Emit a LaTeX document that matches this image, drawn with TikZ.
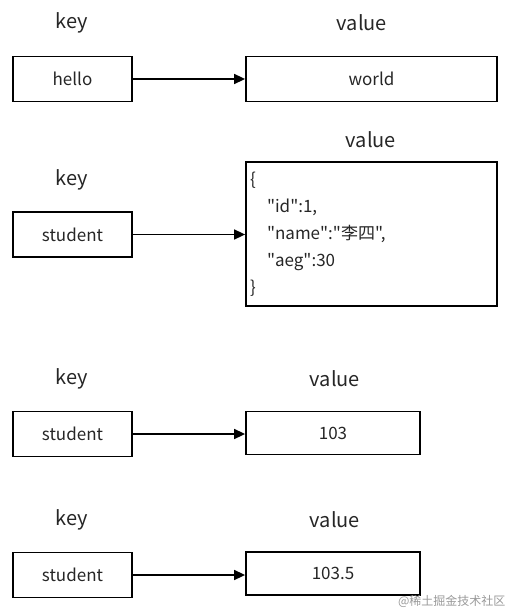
\documentclass[tikz,border=0pt]{standalone}
\usepackage{fontspec}
\usepackage{tikz}
\usetikzlibrary{arrows.meta}
\newfontfamily\jfont{Noto Sans CJK SC}

\begin{document}
\begin{tikzpicture}[
  x=1pt, y=-1pt,
  font=\jfont,
  head/.style={font=\jfont\fontsize{20}{24}\selectfont, text=black!85},
  box/.style={draw, line width=1.8pt, inner sep=0pt,
              font=\jfont\fontsize{17}{20}\selectfont, text=black!85},
  keybox/.style={box, minimum width=119pt, minimum height=45pt},
  arr/.style={-{Triangle[length=11pt, width=10pt]}, line width=1.6pt}
]
\useasboundingbox (0,0) rectangle (511,612);
% pair 1
\node[head] (k1) at (72,23) {key};
\node[head] (v1) at (362,23) {value};
\node[keybox] (hello) at (72.5,79) {hello};
\node[box, minimum width=251pt, minimum height=45pt] (world) at (371.5,79) {world};
\draw[arr] (hello) -- (world);
% pair 2
\node[head] (v2) at (371,140) {value};
\node[head] (k2) at (72,180) {key};
\node[keybox] (stu2) at (72.5,234.5) {student};
\node[box, minimum width=251pt, minimum height=144pt, align=left,
      text width=243pt, inner xsep=4pt, font=\jfont\fontsize{17}{27}\selectfont]
  (json) at (371.5,234) {\raisebox{-3pt}{\{}\\[3pt]
  \hspace*{17pt}"id":1,\\
  \hspace*{17pt}"name":"李四",\\
  \hspace*{17pt}"aeg":30\\
  \}};
\draw[arr] (stu2) -- (stu2 -| json.west);
% pair 3
\node[head] (k3) at (72,379) {key};
\node[head] (v3) at (335,379) {value};
\node[keybox] (stu3) at (72.5,434) {student};
\node[box, minimum width=174pt, minimum height=43pt] (int) at (333,433) {103};
\draw[arr] (stu3) -- (stu3 -| int.west);
% pair 4
\node[head] (k4) at (72,520) {key};
\node[head] (v4) at (335,520) {value};
\node[keybox] (stu4) at (72.5,575) {student};
\node[box, minimum width=174pt, minimum height=43pt] (flt) at (333,573.5) {103.5};
\draw[arr] (stu4) -- (stu4 -| flt.west);
\node[font=\jfont\fontsize{12}{14}\selectfont, text=black!40, anchor=east]
  (mark) at (509,601) {@稀土掘金技术社区};
\end{tikzpicture}
\end{document}
